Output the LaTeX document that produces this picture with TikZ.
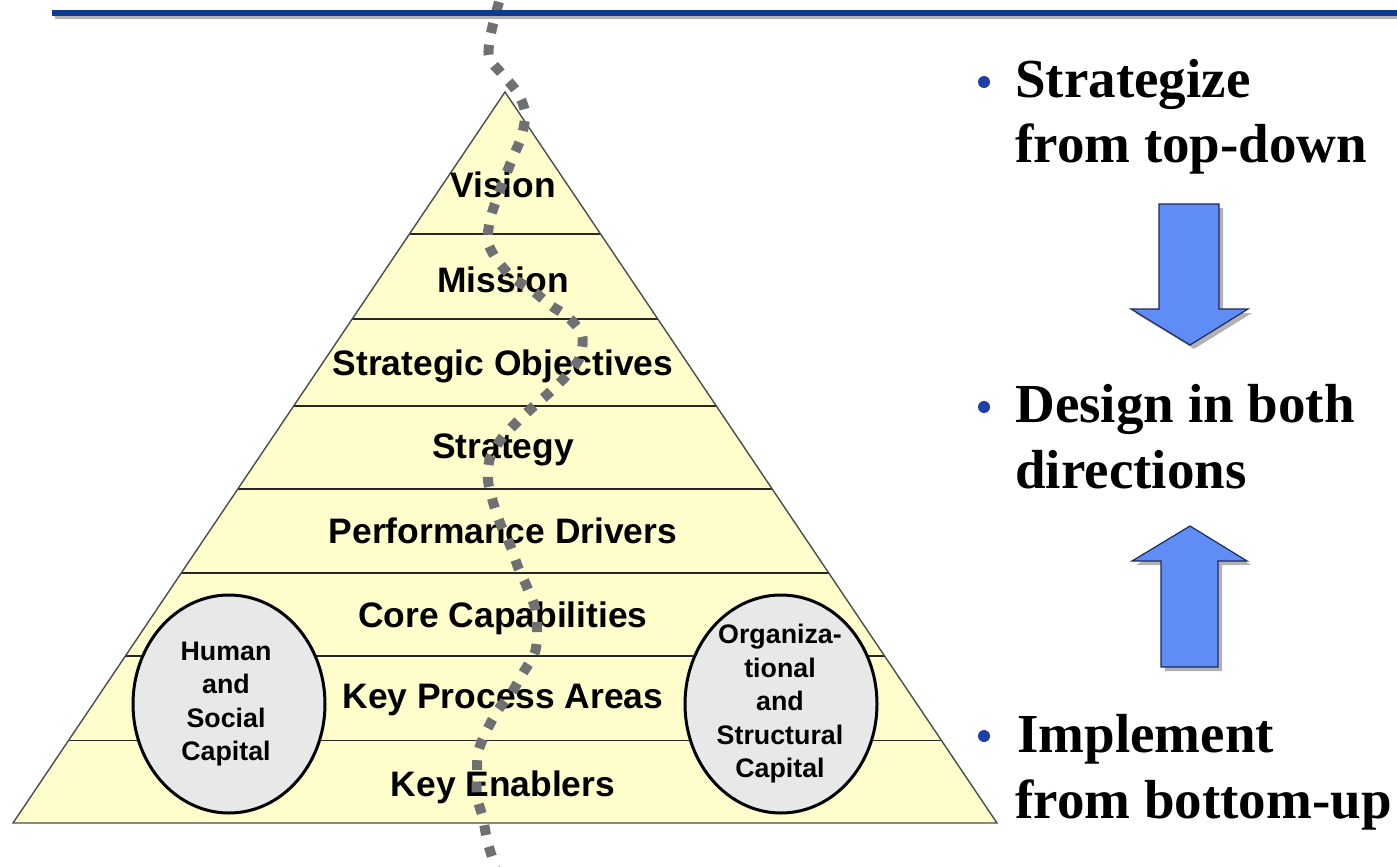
\documentclass[tikz,border=0pt]{standalone}
\usepackage{fontspec}
\setmainfont{Liberation Serif}
\newfontfamily\arialfont{Liberation Sans}
\usetikzlibrary{shapes.geometric,calc}
\definecolor{pyrfill}{HTML}{FFFDCC}
\definecolor{topblue}{HTML}{0E3A8F}
\definecolor{arrowblue}{HTML}{608CF5}
\definecolor{arrowedge}{HTML}{1C2B5C}
\definecolor{dotgray}{HTML}{707072}
\definecolor{bulletblue}{HTML}{1E3FA5}
\definecolor{ellfill}{HTML}{E8E8E8}
\begin{document}
\begin{tikzpicture}[x=0.5pt,y=-0.5pt,
  lvl/.style={anchor=base, font=\arialfont\bfseries\fontsize{17.7}{20}\selectfont, inner sep=0pt},
  captxt/.style={align=center, font=\arialfont\bfseries\fontsize{13.4}{16.75}\selectfont, inner sep=0pt},
  bigtxt/.style={anchor=base west, font=\bfseries\fontsize{27.5}{33}\selectfont, inner sep=0pt},
  capell/.style={ellipse, draw=black, line width=1.5pt, fill=ellfill, minimum width=96pt, minimum height=109pt, inner sep=0pt},
  bigarrow/.style={fill=arrowblue, draw=arrowedge, line width=0.6pt, line join=miter},
  arrshadow/.style={fill=black!30},
  bulletdot/.style={circle, fill=bulletblue, minimum size=6pt, inner sep=0pt},
  tierline/.style={black!85, line width=0.8pt},
  dotline/.style={dotgray, line width=5pt, dash pattern=on 5pt off 6pt}
]
\useasboundingbox (0,0) rectangle (1397,867);
\fill[white] (0,0) rectangle (1397,867);

% pyramid
\coordinate (apex) at (505,92);
\coordinate (bl) at (13,823);
\coordinate (br) at (997,823);
\fill[pyrfill] (apex) -- (br) -- (bl) -- cycle;
\foreach \t in {0.1943,0.3105,0.4295,0.5431,0.658,0.7715,0.887}
  \draw[tierline] ($(apex)!\t!(bl)$) -- ($(apex)!\t!(br)$);
\draw[black!70, line width=0.7pt, line join=miter] (apex) -- (br) -- (bl) -- cycle;

% labels
\node[lvl] (vision) at (503,197) {Vision};
\node[lvl] (mission) at (503,292) {Mission};
\node[lvl] (strobj) at (503,375) {Strategic Objectives};
\node[lvl] (strategy) at (503,458) {Strategy};
\node[lvl] (perf) at (503,543) {Performance Drivers};
\node[lvl] (core) at (503,627) {Core Capabilities};
\node[lvl] (kpa) at (503,708) {Key Process Areas};
\node[lvl] (keyen) at (503,796) {Key Enablers};

% capital ellipses
\node[capell] (hsc) at (229,704) {};
\node[captxt] (hsct) at (226,704) {Human\\and\\Social\\Capital};
\node[capell] (osc) at (781,704) {};
\node[captxt] (osct) at (780,704) {Organiza-\\tional\\and\\Structural\\Capital};

% dotted wavy line
\draw[dotline] plot[smooth, tension=0.5] coordinates {
(499,2) (491,33) (489,57) (502,74) (517,92) (525,112) (522,135) (513,157)
(505,177) (497,198) (490,220) (488,242) (497,260) (513,278) (532,290)
(550,305) (568,317) (582,335) (580,357) (567,375) (550,392) (533,407)
(517,422) (502,438) (490,458) (488,480) (493,502) (500,523) (510,545)
(518,567) (527,587) (535,608) (537,630) (535,652) (523,673) (512,692)
(498,710) (487,730) (478,752) (477,773) (477,797) (483,818) (487,840)
(493,860) (496,870)};

% top rule
\draw[black!30, line width=2pt] (55,17) -- (1397,17);
\draw[topblue, line width=2.6pt] (52,13) -- (1397,13);

% arrows
\fill[arrshadow, shift={(4,4)}] (1159,204) -- (1219,204) -- (1219,309) -- (1248,309) -- (1190,345) -- (1131,309) -- (1159,309) -- cycle;
\draw[bigarrow] (1159,204) -- (1219,204) -- (1219,309) -- (1248,309) -- (1190,345) -- (1131,309) -- (1159,309) -- cycle;
\fill[arrshadow, shift={(4,4)}] (1161,667) -- (1218,667) -- (1218,561) -- (1247,561) -- (1190,526) -- (1132,561) -- (1161,561) -- cycle;
\draw[bigarrow] (1161,667) -- (1218,667) -- (1218,561) -- (1247,561) -- (1190,526) -- (1132,561) -- (1161,561) -- cycle;

% bullets and text
\node[bulletdot] (b1) at (984,82) {};
\node[bulletdot] (b2) at (984,407) {};
\node[bulletdot] (b3) at (984,736) {};
\node[bigtxt] (t1a) at (1015,97) {Strategize};
\node[bigtxt] (t1b) at (1015,162) {from top-down};
\node[bigtxt] (t2a) at (1015,422) {Design in both};
\node[bigtxt] (t2b) at (1015,488) {directions};
\node[bigtxt] (t3a) at (1017,752) {Implement};
\node[bigtxt] (t3b) at (1015,818) {from bottom-up};
\end{tikzpicture}
\end{document}
